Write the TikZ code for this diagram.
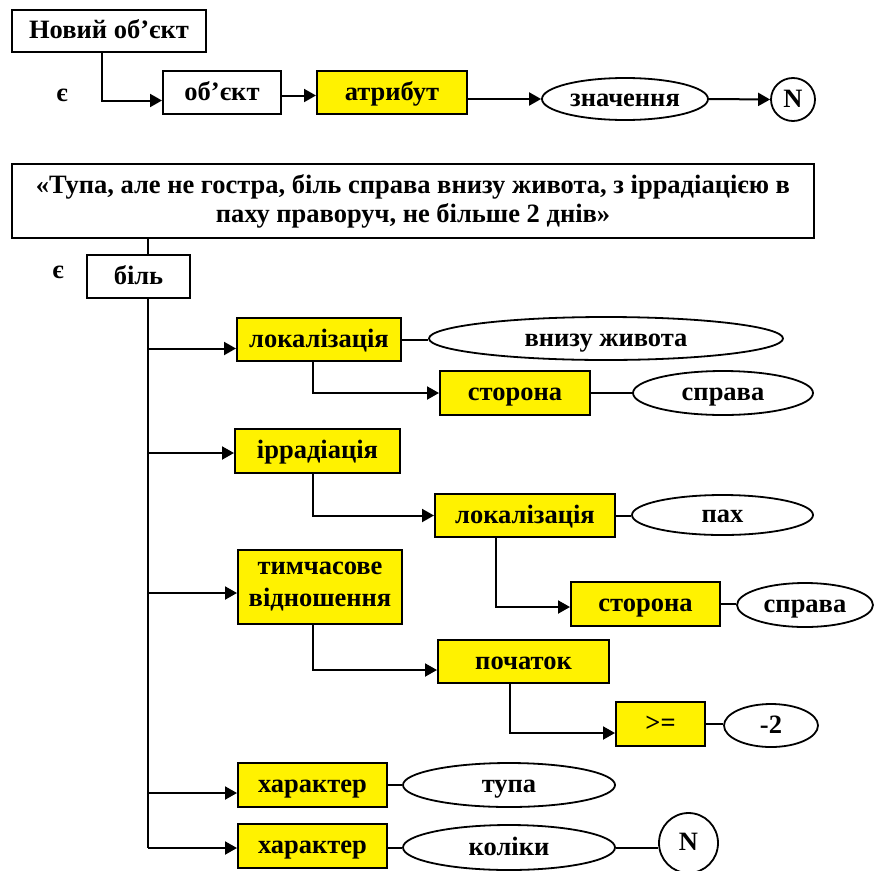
\documentclass[tikz,border=0pt]{standalone}
\usepackage{fontspec}
\setmainfont{Liberation Serif}
\usetikzlibrary{arrows.meta,shapes.geometric}
\begin{document}
\begin{tikzpicture}[x=1pt,y=-1pt,
  font=\fontsize{26.5}{29}\selectfont\bfseries,
  wbox/.style={draw,line width=2pt,fill=white,inner sep=0pt,text height=20pt,text depth=5pt},
  ybox/.style={wbox,fill=yellow},
  oval/.style={draw,line width=1.8pt,ellipse,fill=white,inner sep=0pt,text height=20pt,text depth=5pt},
  arr/.style={line width=2pt,-{Triangle[length=12pt,width=13pt]}},
  ln/.style={line width=2pt}]
\useasboundingbox (0,0) rectangle (874,870);

% top part
\node[wbox,minimum width=194pt,minimum height=42pt] (new) at (109,31) {Новий об’єкт};
\node (e1) at (62,95) {є};
\node[wbox,minimum width=118pt,minimum height=43pt] (obj) at (222,92.5) {об’єкт};
\node[ybox,minimum width=150pt,minimum height=43pt] (atr) at (392,92.5) {атрибут};
\node[oval,minimum width=166pt,minimum height=42pt] (zn) at (625,99) {значення};
\node[oval,minimum width=44pt,minimum height=43pt] (n1) at (793,99.5) {N};

\draw[arr] ([xshift=-7pt]new.south) |- ([yshift=-8pt]obj.west);
\draw[arr] ([yshift=-3pt]obj.east) -- ([yshift=-3pt]atr.west);
\draw[arr] (atr.east |- zn.west) -- (zn.west);
\draw[arr] (zn.east) -- (n1.west);

% big text
\node[draw,line width=2pt,fill=white,inner sep=0pt,minimum width=802pt,minimum height=74pt,align=center] (big) at (413,201)
  {«Тупа, але не гостра, біль справа внизу живота, з іррадіацією в\\паху праворуч, не більше 2 днів»};
\node[wbox,minimum width=103pt,minimum height=43pt] (bil) at (138.5,276.5) {біль};
\node (e2) at (58,272) {є};

\node[ybox,minimum width=164pt,minimum height=43pt] (lok1) at (319,339.5) {локалізація};
\node[oval,minimum width=354pt,minimum height=43pt] (vz) at (606,338.5) {внизу живота};
\node[ybox,minimum width=150pt,minimum height=44pt] (st1) at (515,393) {сторона};
\node[oval,minimum width=180pt,minimum height=44pt] (spr1) at (723,393) {справа};
\node[ybox,minimum width=165pt,minimum height=44pt] (irr) at (317.5,451) {іррадіація};
\node[ybox,minimum width=180pt,minimum height=43pt] (lok2) at (525,515.5) {локалізація};
\node[oval,minimum width=181pt,minimum height=40pt] (pakh) at (722.5,515) {пах};
\node[draw,line width=2pt,fill=yellow,inner sep=0pt,minimum width=164pt,minimum height=74pt,align=center,font=\fontsize{26.5}{32}\selectfont\bfseries] (tim) at (320,587) {тимчасове\\відношення};
\node[ybox,minimum width=149pt,minimum height=44pt] (st2) at (645.5,604) {сторона};
\node[oval,minimum width=136pt,minimum height=44pt] (spr2) at (805,605) {справа};
\node[ybox,minimum width=171pt,minimum height=43pt] (poch) at (523.5,661.5) {початок};
\node[ybox,minimum width=89pt,minimum height=44pt] (ge) at (660.5,724) {>=};
\node[oval,minimum width=94pt,minimum height=43pt] (m2) at (771,725.5) {-2};
\node[ybox,minimum width=149pt,minimum height=44pt] (ch1) at (312.5,785) {характер};
\node[oval,minimum width=212pt,minimum height=44pt] (tupa) at (509,785) {тупа};
\node[ybox,minimum width=149pt,minimum height=44pt] (ch2) at (312.5,846) {характер};
\node[oval,minimum width=212pt,minimum height=45pt] (kol) at (509,847.5) {коліки};
\node[oval,minimum width=59pt,minimum height=60pt] (n2) at (688.5,843) {N};

% trunk
\coordinate (trunk) at ([xshift=9.5pt]bil.south);
\draw[ln] (trunk |- big.south) -- (trunk |- bil.north);
\foreach \n/\s in {lok1/-9,irr/-2,tim/-6,ch1/-8,ch2/-2}{
  \path ([yshift=\s pt]\n.west) coordinate (t\n);
  \draw[arr] (trunk |- t\n) -- (t\n);
}
\draw[ln] (trunk) -- (trunk |- tch2);

% elbows
\draw[arr] ([xshift=-6pt]lok1.south) |- (st1.west);
\draw[arr] ([xshift=-4.5pt]irr.south) |- (lok2.west);
\draw[arr] ([xshift=-29pt]lok2.south) |- ([yshift=-3pt]st2.west);
\draw[arr] ([xshift=-7pt]tim.south) |- ([yshift=-8.5pt]poch.west);
\draw[arr] ([xshift=-13.5pt]poch.south) |- ([yshift=-9pt]ge.west);

% value links
\draw[ln] (lok1.east) -- (lok1.east -| vz.west);
\draw[ln] (st1.east) -- (spr1.west);
\draw[ln] (lok2.east) -- (lok2.east -| pakh.west);
\draw[ln] (st2.east) -- (st2.east -| spr2.west);
\draw[ln] (ge.east) -- (ge.east -| m2.west);
\draw[ln] (ch1.east) -- (tupa.west);
\draw[ln] (kol.west -| ch2.east) -- (kol.west);
\draw[ln] (kol.east) -- (kol.east -| n2.west);
\end{tikzpicture}
\end{document}
